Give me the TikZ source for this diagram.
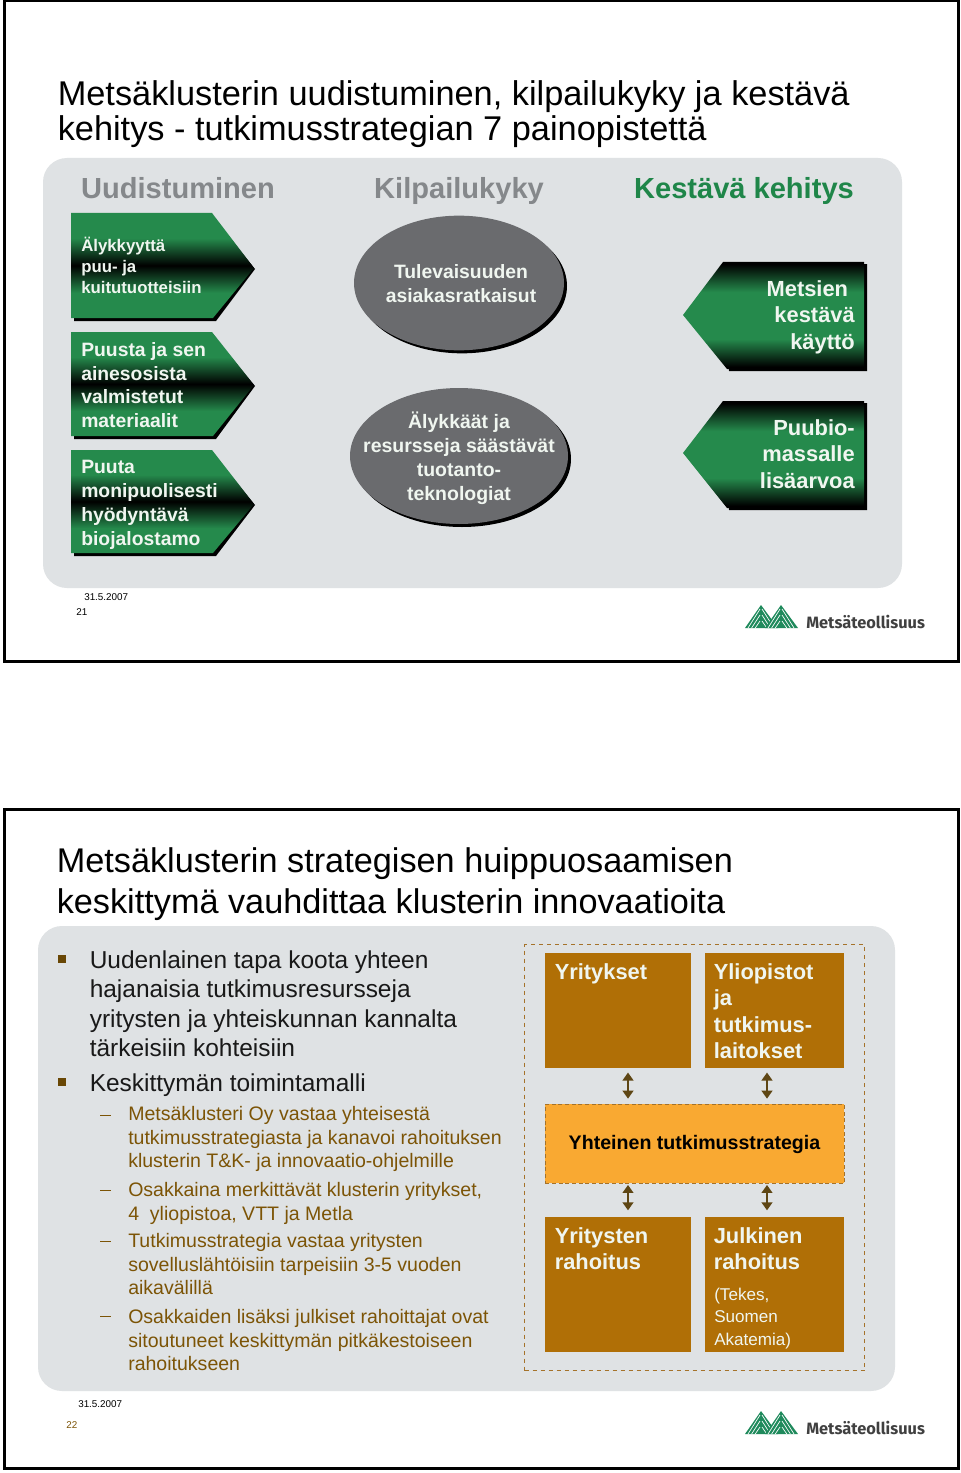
\documentclass[tikz,border=0pt]{standalone}
\usepackage{fontspec}
\setmainfont{Liberation Sans}
\newfontfamily\logofont{Fira Sans}
\usetikzlibrary{shapes.geometric,arrows.meta}
\definecolor{leaf}{HTML}{258A4C}
\definecolor{panelgray}{HTML}{DFE2E4}
\definecolor{amber}{HTML}{B06F06}
\definecolor{stratfill}{HTML}{F9A932}
\definecolor{brownline}{HTML}{A5722A}
\definecolor{arrowbrown}{HTML}{5E4614}
\definecolor{subtext}{HTML}{7C5406}
\definecolor{headgray}{HTML}{85888B}
\definecolor{headgreen}{HTML}{1F8649}
\definecolor{ovalgray}{HTML}{6A6B6E}
\definecolor{paletext}{HTML}{F0F6F0}
\definecolor{logogreen}{HTML}{1F8A5C}
\pgfdeclareverticalshading{arrowright}{100bp}{color(0bp)=(leaf); color(37bp)=(leaf); color(50bp)=(black); color(63bp)=(leaf); color(100bp)=(leaf)}
\pgfdeclareverticalshading{arrowleft}{100bp}{color(0bp)=(black); color(26bp)=(black); color(39bp)=(leaf); color(61bp)=(leaf); color(74bp)=(black); color(100bp)=(black)}
\newcommand{\fs}[2]{\fontsize{#1}{#2}\selectfont}
\newcommand{\logomark}{%
  \foreach \ax in {761,781}{
    \fill[logogreen] (\ax,605) -- (\ax+17,628) -- (\ax-16,628) -- cycle;
    \foreach \d in {0,6,12}{
      \draw[white,line width=0.5pt] (\ax-1,609+\d) -- (\ax-13+\d*0.6,628);
      \draw[white,line width=0.5pt] (\ax+1,609+\d) -- (\ax+13-\d*0.6,628);
    }
  }
}
\tikzset{
  frame/.style={draw=black,line width=2.25pt,fill=white},
  panel/.style={fill=panelgray,rounded corners=18pt},
  title/.style={anchor=north west,inner sep=0pt,align=left,text=black},
  heading/.style={anchor=base,inner sep=0pt,font=\bfseries\fs{21.8}{26}},
  pale/.style={anchor=north west,inner sep=0pt,align=left,text=paletext,font=\bfseries},
  oval/.style={ellipse,fill=ovalgray,inner sep=0pt},
  ovalshadow/.style={ellipse,fill=black,inner sep=0pt},
  ovaltext/.style={inner sep=0pt,align=center,text=paletext,font=\bfseries\fs{14.5}{18}},
  ambox/.style={fill=amber,inner sep=0pt,anchor=north west},
  mainbullet/.style={anchor=north west,inner sep=0pt,align=left,font=\fs{18.35}{22.2},text=black!90},
  subbullet/.style={anchor=north west,inner sep=0pt,align=left,font=\fs{14.65}{17.7},text=subtext},
  sq/.style={fill=subtext!85!black,inner sep=0pt,minimum size=6pt},
  tick/.style={draw=subtext,line width=0.7pt},
  small/.style={inner sep=0pt,font=\fs{7.4}{9},anchor=base west},
  link/.style={draw=arrowbrown,line width=2.2pt,{Triangle[width=8pt,length=6pt]}-{Triangle[width=8pt,length=6pt]},shorten <=3pt,shorten >=4pt},
  linklow/.style={link,shorten <=0.75pt,shorten >=5pt},
  logotext/.style={anchor=base west,inner sep=0pt,text=black!75,font=\logofont\bfseries\fs{12.3}{14}}
}
\begin{document}
\begin{tikzpicture}[x=0.75pt,y=-0.75pt]
\useasboundingbox (0,0) rectangle (960,1473);
\fill[white] (0,0) rectangle (960,1473);

%% ---------- slide 1
\draw[frame] (4,1) rectangle (958,661);
\node[title,font=\fs{25.75}{26.2}] (t1) at (57.5,80) {Metsäklusterin uudistuminen, kilpailukyky ja kestävä\\kehitys - tutkimusstrategian 7 painopistettä};
\fill[panel] (43,158) rectangle (902,588);
\node[heading,text=headgray] (h1) at (178,199) {Uudistuminen};
\node[heading,text=headgray] (h2) at (459,199) {Kilpailukyky};
\node[heading,text=headgreen] (h3) at (744,199) {Kestävä kehitys};

% right-pointing arrows
\fill[black] (74,216) -- (212,216) -- (255,269) -- (216,321) -- (74,321) -- cycle;
\shade[shading=arrowright] (71,213) -- (212,213) -- (254,268) -- (213,318) -- (71,318) -- cycle;
\fill[black] (74,335) -- (212,335) -- (255,386) -- (216,439) -- (74,439) -- cycle;
\shade[shading=arrowright] (71,332) -- (212,332) -- (254,385) -- (213,436) -- (71,436) -- cycle;
\fill[black] (74,453) -- (212,453) -- (255,505) -- (216,556) -- (74,556) -- cycle;
\shade[shading=arrowright] (71,450) -- (212,450) -- (254,504) -- (213,553) -- (71,553) -- cycle;
\node[pale,font=\bfseries\fs{12.6}{15.8}] (a1) at (81,237) {Älykkyyttä\\puu- ja\\kuitutuotteisiin};
\node[pale,font=\bfseries\fs{14.5}{17.8}] (a2) at (81,342) {Puusta ja sen\\ainesosista\\valmistetut\\materiaalit};
\node[pale,font=\bfseries\fs{14.5}{17.9}] (a3) at (81,460) {Puuta\\monipuolisesti\\hyödyntävä\\biojalostamo};

% ovals
\node[ovalshadow,minimum width=157.5pt,minimum height=101pt] (e1s) at (462,286) {};
\node[oval,minimum width=157.5pt,minimum height=101pt] (e1) at (459,283) {};
\node[ovaltext] (e1t) at (461,284) {Tulevaisuuden\\asiakasratkaisut};
\node[ovalshadow,minimum width=163.5pt,minimum height=102pt] (e2s) at (462,459) {};
\node[oval,minimum width=163.5pt,minimum height=102pt] (e2) at (459,456) {};
\node[ovaltext,font=\bfseries\fs{14.6}{18}] (e2t) at (459,458) {Älykkäät ja\\resursseja säästävät\\tuotanto-\\teknologiat};

% left-pointing arrows
\fill[black] (725,264) -- (867,264) -- (867,371) -- (729,371) -- cycle;
\shade[shading=arrowleft] (683,315) -- (723,262) -- (864,262) -- (864,369) -- (727,369) -- cycle;
\fill[black] (725,403) -- (867,403) -- (867,510) -- (729,510) -- cycle;
\shade[shading=arrowleft] (683,453) -- (723,401) -- (864,401) -- (864,508) -- (727,508) -- cycle;
\node[pale,anchor=north east,align=right,font=\bfseries\fs{16.4}{20}] (b1) at (855,280) {Metsien\hspace*{5pt}\\kestävä\\käyttö};
\node[pale,anchor=north east,align=right,font=\bfseries\fs{16.4}{20}] (b2) at (855,419) {Puubio-\\massalle\\lisäarvoa};

\node[small] (d1) at (84,600) {31.5.2007};
\node[small] (n1) at (76,615) {21};
\logomark
\node[logotext] (l1) at (806,628) {Metsäteollisuus};

%% ---------- slide 2
\draw[frame] (4,809) rectangle (958,1468);
\node[title,font=\fs{25.7}{30.9}] (t2) at (56.5,847) {Metsäklusterin strategisen huippuosaamisen\\keskittymä vauhdittaa klusterin innovaatioita};
\fill[panel] (38,926) rectangle (895,1391);

\node[sq] (s1) at (62,959) {};
\node[mainbullet] (p1) at (89.5,950) {Uudenlainen tapa koota yhteen\\hajanaisia tutkimusresursseja\\yritysten ja yhteiskunnan kannalta\\tärkeisiin kohteisiin};
\node[sq] (s2) at (62,1082) {};
\node[mainbullet] (p2) at (89.5,1073) {Keskittymän toimintamalli};
\foreach \y/\nm in {1115/k1,1190/k2,1241/k3,1316/k4}{
  \coordinate (\nm a) at (100,\y); \coordinate (\nm b) at (111,\y);
  \draw[tick] (\nm a) -- (\nm b);
}
\node[subbullet] (q1) at (128,1106) {Metsäklusteri Oy vastaa yhteisestä\\tutkimusstrategiasta ja kanavoi rahoituksen\\klusterin T\&K- ja innovaatio-ohjelmille};
\node[subbullet] (q2) at (128,1182) {Osakkaina merkittävät klusterin yritykset,\\4\ \ yliopistoa, VTT ja Metla};
\node[subbullet] (q3) at (128,1233) {Tutkimusstrategia vastaa yritysten\\sovelluslähtöisiin tarpeisiin 3-5 vuoden\\aikavälillä};
\node[subbullet] (q4) at (128,1309) {Osakkaiden lisäksi julkiset rahoittajat ovat\\sitoutuneet keskittymän pitkäkestoiseen\\rahoitukseen};

\node[draw=brownline,dashed,line width=0.8pt,inner sep=0pt,anchor=north west,minimum width=255pt,minimum height=319.5pt] (outer) at (524,944) {};
\node[ambox,minimum width=109.5pt,minimum height=86.25pt] (yr) at (545,953) {};
\node[ambox,minimum width=104.25pt,minimum height=86.25pt] (yl) at (705,953) {};
\node[fill=stratfill,draw=brownline,densely dashed,line width=0.7pt,inner sep=0pt,anchor=north west,minimum width=224.25pt,minimum height=59.25pt] (st) at (545,1104) {};
\node[ambox,minimum width=109.5pt,minimum height=101.25pt] (ra) at (545,1217) {};
\node[ambox,minimum width=104.25pt,minimum height=101.25pt] (ju) at (705,1217) {};

\coordinate (c1) at (628,1000);
\coordinate (c2) at (767,1000);
\draw[link] (yr.south -| c1) -- (st.north -| c1);
\draw[link] (yl.south -| c2) -- (st.north -| c2);
\draw[linklow] (st.south -| c1) -- (ra.north -| c1);
\draw[linklow] (st.south -| c2) -- (ju.north -| c2);

\node[pale,font=\bfseries\fs{16.4}{19.9}] (yrt) at (554.5,963) {Yritykset};
\node[pale,font=\bfseries\fs{16.4}{19.9}] (ylt) at (713.5,963) {Yliopistot\\ja\\tutkimus-\\laitokset};
\node[inner sep=0pt,font=\bfseries\fs{14.7}{18},text=black] (stt) at (694.5,1144) {Yhteinen tutkimusstrategia};
\node[pale,font=\bfseries\fs{16.4}{19.9}] (rat) at (554.5,1227) {Yritysten\\rahoitus};
\node[pale,font=\bfseries\fs{16.4}{19.9}] (jut) at (713.5,1227) {Julkinen\\rahoitus};
\node[pale,font=\fs{12.8}{16.7}] (jus) at (714,1288) {(Tekes,\\Suomen\\Akatemia)};

\node[small] (d2) at (78,1407) {31.5.2007};
\node[small,text=subtext] (n2) at (66,1428) {22};
\begin{scope}[shift={(0,806)}]
\logomark
\node[logotext] (l2) at (806,628) {Metsäteollisuus};
\end{scope}
\end{tikzpicture}
\end{document}
